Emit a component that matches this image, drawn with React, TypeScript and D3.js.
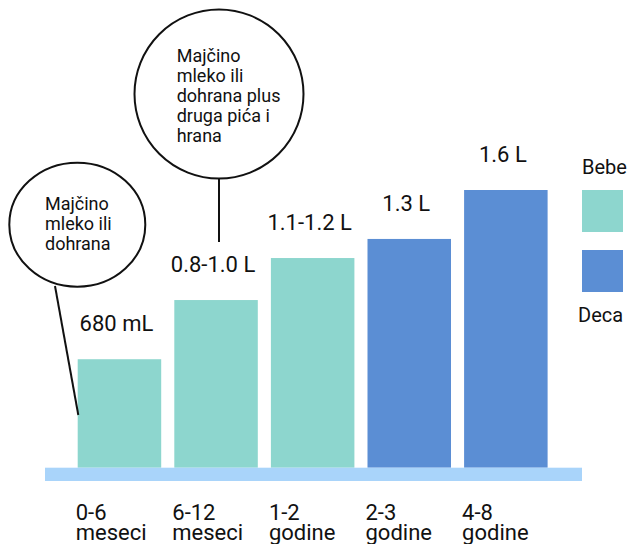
import * as d3 from "d3";
import { useEffect, useRef } from "react";

// data
const ageTop = ["0-6", "6-12", "1-2", "2-3", "4-8"];
const ageBottom = ["meseci", "meseci", "godine", "godine", "godine"];
const groups = ["Bebe", "Bebe", "Bebe", "Deca", "Deca"];
const heights = [0.625, 0.966, 1.208, 1.318, 1.6]; // bar height as drawn, in L
const valueLabels = ["680 mL", "0.8-1.0 L", "1.1-1.2 L", "1.3 L", "1.6 L"];
const legendItems = ["Bebe", "Deca"];
const bubble1Lines = ["Majčino", "mleko ili", "dohrana"];
const bubble2Lines = ["Majčino", "mleko ili", "dohrana plus", "druga pića i", "hrana"];

const W = 630;
const H = 544;
const FONT = "Roboto, 'Noto Sans', sans-serif";

export default function App() {
    const ref = useRef<SVGSVGElement | null>(null);

    useEffect(() => {
        if (!ref.current) return;
        const svg = d3.select(ref.current);
        svg.selectAll("*").remove();

        const baseY = 467.7;

        const x = d3.scaleBand<string>()
            .domain(ageTop)
            .range([77.7, 547.6])
            .paddingInner(0.1356)
            .paddingOuter(0);

        const y = d3.scaleLinear()
            .domain([0, 1.6])
            .range([baseY, 190]);

        const color = d3.scaleOrdinal<string, string>()
            .domain(legendItems)
            .range(["#8dd6ce", "#5b8ed4"]);

        svg.append("rect")
            .attr("width", W)
            .attr("height", H)
            .attr("fill", "#ffffff");

        // bars
        svg.append("g")
            .selectAll("rect")
            .data(heights)
            .join("rect")
            .attr("x", (_, i) => x(ageTop[i])!)
            .attr("y", d => y(d))
            .attr("width", x.bandwidth())
            .attr("height", d => baseY - y(d))
            .attr("fill", (_, i) => color(groups[i]));

        // floor band
        svg.append("rect")
            .attr("x", 45)
            .attr("y", baseY)
            .attr("width", 537)
            .attr("height", 13.3)
            .attr("fill", "#a9d4fa");

        // value labels
        svg.append("g")
            .selectAll("text")
            .data(heights)
            .join("text")
            .attr("x", (_, i) => x(ageTop[i])! + x.bandwidth() / 2 - 3)
            .attr("y", d => y(d) - 28)
            .attr("text-anchor", "middle")
            .attr("font-family", FONT)
            .attr("font-size", 22)
            .attr("fill", "#111")
            .text((_, i) => valueLabels[i]);

        // category labels
        const cat = svg.append("g")
            .selectAll("text")
            .data(ageTop)
            .join("text")
            .attr("x", d => x(d)! - 2)
            .attr("y", 520)
            .attr("font-family", FONT)
            .attr("font-size", 22)
            .attr("fill", "#111");
        cat.append("tspan").text(d => d);
        cat.append("tspan")
            .attr("x", d => x(d)! - 2)
            .attr("dy", 20)
            .text((_, i) => ageBottom[i]);

        // legend
        const leg = svg.append("g");
        leg.append("text")
            .attr("x", 582)
            .attr("y", 174)
            .attr("font-family", FONT)
            .attr("font-size", 20)
            .attr("fill", "#111")
            .text(legendItems[0]);
        leg.append("rect")
            .attr("x", 582).attr("y", 190)
            .attr("width", 41).attr("height", 42)
            .attr("fill", color(legendItems[0]));
        leg.append("rect")
            .attr("x", 582).attr("y", 250)
            .attr("width", 41).attr("height", 42)
            .attr("fill", color(legendItems[1]));
        leg.append("text")
            .attr("x", 578)
            .attr("y", 322)
            .attr("font-family", FONT)
            .attr("font-size", 20)
            .attr("fill", "#111")
            .text(legendItems[1]);

        // callout bubbles
        const ink = "#111";
        svg.append("line")
            .attr("x1", 55).attr("y1", 286)
            .attr("x2", 78.3).attr("y2", 415)
            .attr("stroke", ink).attr("stroke-width", 2);
        svg.append("ellipse")
            .attr("cx", 77.3).attr("cy", 224.7)
            .attr("rx", 68).attr("ry", 62)
            .attr("fill", "#fff")
            .attr("stroke", ink).attr("stroke-width", 2);
        svg.append("g")
            .selectAll("text")
            .data(bubble1Lines)
            .join("text")
            .attr("x", 45)
            .attr("y", (_, i) => 210 + i * 20)
            .attr("font-family", FONT)
            .attr("font-size", 18)
            .attr("fill", ink)
            .text(d => d);

        svg.append("line")
            .attr("x1", 219).attr("y1", 178)
            .attr("x2", 219).attr("y2", 242)
            .attr("stroke", ink).attr("stroke-width", 2);
        svg.append("circle")
            .attr("cx", 219).attr("cy", 94)
            .attr("r", 84.5)
            .attr("fill", "#fff")
            .attr("stroke", ink).attr("stroke-width", 2);
        svg.append("g")
            .selectAll("text")
            .data(bubble2Lines)
            .join("text")
            .attr("x", 176.7)
            .attr("y", (_, i) => 62 + i * 20)
            .attr("font-family", FONT)
            .attr("font-size", 18)
            .attr("fill", ink)
            .text(d => d);
    }, []);

    return (
        <svg
            ref={ref}
            width={W}
            height={H}
            style={{ position: "absolute", left: 0, top: 0 }}
        />
    );
}
